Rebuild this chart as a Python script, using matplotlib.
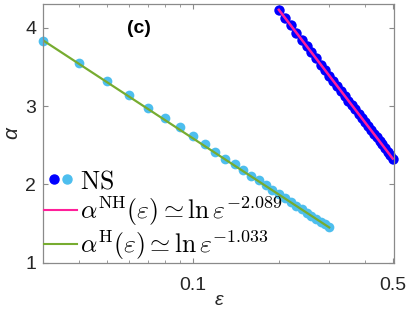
import matplotlib
matplotlib.use("Agg")
import matplotlib.pyplot as plt
from matplotlib.lines import Line2D
from matplotlib.legend_handler import HandlerTuple
from matplotlib.ticker import FixedLocator, FixedFormatter, NullFormatter

plt.rcParams['font.family'] = ['Liberation Sans', 'DejaVu Sans']
plt.rcParams['mathtext.fontset'] = 'cm'

# Hermitian case (light blue points)
h_eps = [0.03, 0.04, 0.05, 0.06, 0.07, 0.08, 0.09, 0.10, 0.11, 0.12,
         0.13, 0.14, 0.15, 0.16, 0.17, 0.18, 0.19, 0.20, 0.21, 0.22,
         0.23, 0.24, 0.25, 0.26, 0.27, 0.28, 0.29, 0.30]
h_alpha = [3.83, 3.55, 3.32, 3.14, 2.98, 2.85, 2.73, 2.62, 2.51, 2.42,
           2.33, 2.26, 2.18, 2.11, 2.05, 1.99, 1.93, 1.88, 1.83, 1.78,
           1.73, 1.69, 1.64, 1.60, 1.56, 1.52, 1.49, 1.45]

# non-Hermitian case (blue points)
nh_eps = [0.20, 0.21, 0.22, 0.23, 0.24, 0.25, 0.26, 0.27, 0.28, 0.29,
          0.30, 0.31, 0.32, 0.33, 0.34, 0.35, 0.36, 0.37, 0.38, 0.39,
          0.40, 0.41, 0.42, 0.43, 0.44, 0.45, 0.46, 0.47, 0.48, 0.49, 0.50]
nh_alpha = [4.23, 4.13, 4.03, 3.94, 3.85, 3.77, 3.69, 3.61, 3.53, 3.46,
            3.39, 3.32, 3.26, 3.19, 3.13, 3.07, 3.01, 2.96, 2.90, 2.85,
            2.80, 2.74, 2.69, 2.65, 2.60, 2.55, 2.51, 2.46, 2.42, 2.38, 2.33]

# fitted lines (straight in log-x)
h_fit_eps = [0.03, 0.30]
h_fit_alpha = [3.84, 1.45]
nh_fit_eps = [0.20, 0.50]
nh_fit_alpha = [4.23, 2.33]

c_light = '#4DBEEE'
c_blue = '#0000FF'
c_pink = '#FF1F9A'
c_green = '#77AC30'

fig = plt.figure(figsize=(4.07, 3.11), dpi=100)
ax = fig.add_axes([0.1057, 0.1553, 0.8623, 0.8308])

ax.plot(nh_eps, nh_alpha, 'o', color=c_blue, ms=7.5, mec='none', clip_on=False)
ax.plot(h_eps, h_alpha, 'o', color=c_light, ms=7, mec='none', clip_on=False)
ax.plot(nh_fit_eps, nh_fit_alpha, '-', color=c_pink, lw=1.8)
ax.plot(h_fit_eps, h_fit_alpha, '-', color=c_green, lw=1.6)

ax.set_xscale('log')
ax.set_xlim(0.03, 0.505)
ax.set_ylim(1, 4.3)
ax.xaxis.set_major_locator(FixedLocator([0.1, 0.5]))
ax.xaxis.set_major_formatter(FixedFormatter(['0.1', '0.5']))
ax.xaxis.set_minor_locator(FixedLocator([0.04, 0.05, 0.06, 0.07, 0.08, 0.09, 0.2, 0.3, 0.4]))
ax.xaxis.set_minor_formatter(NullFormatter())
ax.set_yticks([1, 2, 3, 4])

for s in ax.spines.values():
    s.set_color('#8a8a8a')
    s.set_linewidth(0.9)
ax.tick_params(which='both', direction='in', top=True, right=True,
               color='#8a8a8a', labelsize=14, labelcolor='#262626')
ax.tick_params(which='major', length=3.5)
ax.tick_params(which='minor', length=2.2)
ax.tick_params(axis='x', pad=10)
ax.tick_params(axis='y', pad=5)

ax.set_xlabel('ε', fontsize=14, style='italic', color='#262626', labelpad=-1)
ax.set_ylabel('α', fontsize=15, style='italic', color='#262626', labelpad=3)

ax.text(0.274, 0.908, '(c)', transform=ax.transAxes, fontsize=14,
        fontweight='bold', ha='center', va='center')

ns_handle = (Line2D([], [], ls='none', marker='o', color=c_blue, ms=6.5),
             Line2D([], [], ls='none', marker='o', color=c_light, ms=6.5))
pink_handle = Line2D([], [], color=c_pink, lw=1.5)
green_handle = Line2D([], [], color=c_green, lw=1.5)
ax.legend([ns_handle, pink_handle, green_handle],
          [r'$\mathrm{NS}$',
           r'$\alpha^{\mathrm{NH}}(\varepsilon)\simeq\ln\varepsilon^{-2.089}$',
           r'$\alpha^{\mathrm{H}}(\varepsilon)\simeq\ln\varepsilon^{-1.033}$'],
          handler_map={tuple: HandlerTuple(ndivide=None, pad=-0.3)},
          loc='lower left', bbox_to_anchor=(-0.005, -0.008), frameon=False,
          fontsize=18.5, handlelength=1.3, handletextpad=0.1,
          labelspacing=0.04, borderpad=0.1, borderaxespad=0.0)

fig.savefig('out.png', dpi=100)
